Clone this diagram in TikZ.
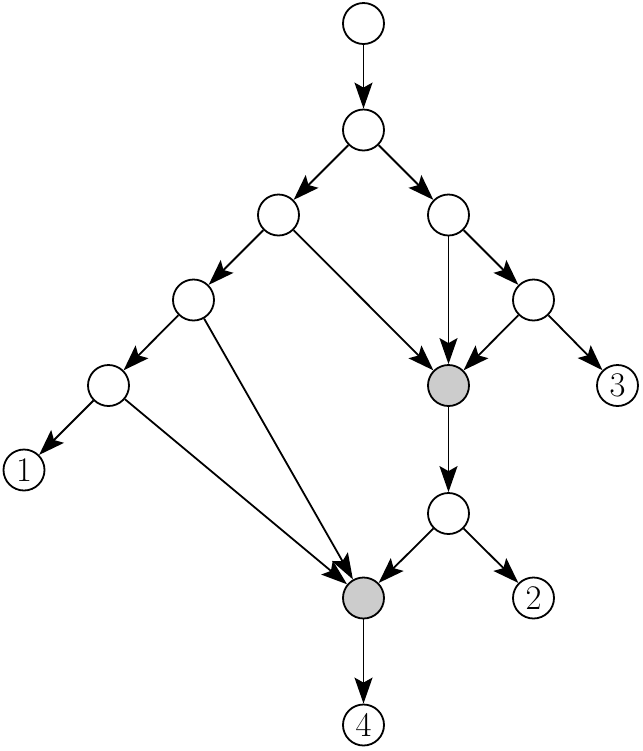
\documentclass[tikz,border=0pt]{standalone}
\usepackage{amsmath}
\usepackage{amssymb}
\usetikzlibrary{arrows.meta}
\begin{document}
\begin{tikzpicture}[x=5pt,y=5pt,line width=0.9pt,>={Stealth[length=13pt,width=9pt,inset=2.5pt]}]

\tikzstyle{every node}+=[inner sep=0pt]
\tikzstyle{vert}=[draw=black,circle,minimum size=20.5pt,fill=white,font=\LARGE]
\tikzstyle{hit}=[vert,fill=black!20]
\useasboundingbox (0,0) rectangle (64.3,-75.1);
\node [vert] (a) at (36.35,-2.35) {};
\node [vert] (b) at (36.35,-13) {};
\node [vert] (c) at (27.85,-21.5) {};
\node [vert] (d) at (44.85,-21.5) {};
\node [vert] (e) at (19.35,-30) {};
\node [vert] (f) at (53.35,-30) {};
\node [vert] (g) at (10.85,-38.55) {};
\node [hit] (h) at (44.85,-38.55) {};
\node [vert] (o3) at (61.75,-38.55) {$3$};
\node [vert] (o1) at (2.4,-47) {$1$};
\node [vert] (i) at (44.85,-51.35) {};
\node [hit] (j) at (36.35,-59.8) {};
\node [vert] (o2) at (53.35,-59.8) {$2$};
\node [vert] (o4) at (36.35,-72.5) {$4$};
\draw [black,->] (a) -- (b);
\draw [black,->] (b) -- (c);
\draw [black,->] (b) -- (d);
\draw [black,->] (c) -- (e);
\draw [black,->] (c) -- (h);
\draw [black,->] (d) -- (h);
\draw [black,->] (d) -- (f);
\draw [black,->] (e) -- (g);
\draw [black,->] (e) -- (j);
\draw [black,->] (f) -- (h);
\draw [black,->] (f) -- (o3);
\draw [black,->] (g) -- (o1);
\draw [black,->] (g) -- (j);
\draw [black,->] (h) -- (i);
\draw [black,->] (i) -- (j);
\draw [black,->] (i) -- (o2);
\draw [black,->] (j) -- (o4);
\end{tikzpicture}
\end{document}
